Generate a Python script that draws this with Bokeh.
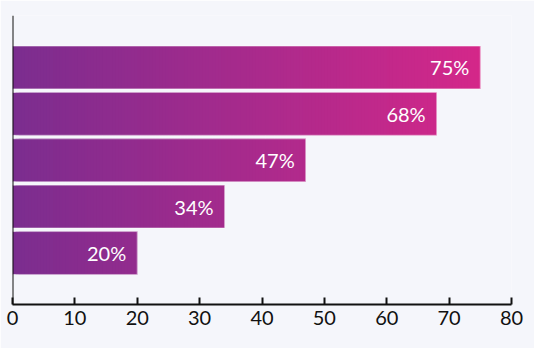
import numpy as np
from bokeh.plotting import figure
from bokeh.models import Range1d, Span, ColumnDataSource, FixedTicker
from bokeh.core.properties import value
from bokeh.embed import file_html
from bokeh.resources import INLINE

# data (bottom to top)
values = [20, 34, 47, 68, 75]
labels = ["20%", "34%", "47%", "68%", "75%"]
positions = [1, 2, 3, 4, 5]
ticks = [0, 10, 20, 30, 40, 50, 60, 70, 80]

FONT = "Lato"
c0 = np.array([0x7b, 0x2d, 0x8f])
c1 = np.array([0xda, 0x27, 0x89])

p = figure(width=534, height=348, output_backend="svg", toolbar_location=None,
           x_range=Range1d(0, 80), y_range=Range1d(-0.11, 6.12),
           background_fill_color="#f5f6fb", border_fill_color="#f5f6fb",
           min_border_left=12, min_border_right=23, min_border_top=15, min_border_bottom=44)
p.outline_line_color = None
p.grid.visible = False
p.yaxis.visible = False

# gradient slices per bar (each slice overlaps the next to avoid seams)
step = 0.5
L, R, B, T, C = [], [], [], [], []
h = 0.925
for v, y in zip(values, positions):
    xs = np.arange(0, v, step)
    for x in xs:
        x2 = min(x + step, v)
        t = ((x + x2) / 2) / 80.0
        col = c0 + (c1 - c0) * t
        L.append(x); R.append(min(x + 3 * step, v))
        B.append(y - h / 2); T.append(y + h / 2)
        C.append("#%02x%02x%02x" % tuple(int(round(c)) for c in col))
p.quad(left=L, right=R, bottom=B, top=T, fill_color=C, line_color=None)

src = ColumnDataSource(dict(v=values, y=positions, lab=labels,
                            zero=[0] * len(values),
                            b=[y - h / 2 for y in positions], t=[y + h / 2 for y in positions]))
p.quad(left="zero", right="v", bottom="b", top="t", source=src, fill_color=None,
       line_color="white", line_alpha=0.55, line_width=1)
p.text(x="v", y="y", text="lab", source=src, x_offset=-11, text_align="right",
       text_baseline="middle", text_color="white", text_font=value(FONT),
       text_font_size="20px")

p.add_layout(Span(location=0, dimension="height", line_color="#111111", line_width=2))

ax = p.xaxis[0]
ax.ticker = FixedTicker(ticks=ticks)
ax.axis_line_color = "#111111"
ax.axis_line_width = 2
ax.major_tick_line_color = "#111111"
ax.major_tick_line_width = 2
ax.major_tick_in = 7
ax.major_tick_out = 0
ax.minor_tick_line_color = None
ax.major_label_text_font = FONT
ax.major_label_text_font_size = "20px"
ax.major_label_text_color = "#111111"
ax.major_label_standoff = 6

open("out.html", "w").write(file_html(p, INLINE))
